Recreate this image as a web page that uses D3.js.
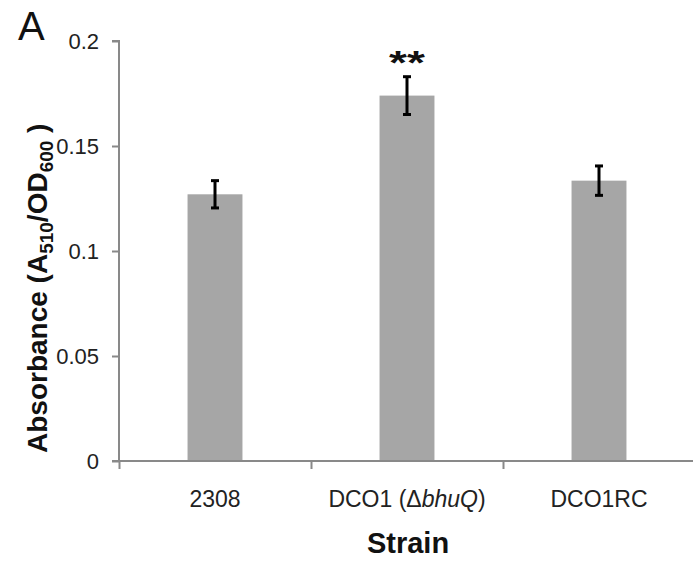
<!DOCTYPE html>
<html><head><meta charset="utf-8">
<script src="https://cdn.jsdelivr.net/npm/d3@7"></script>
<style>body{margin:0;background:#fff}svg{display:block;font-family:"Liberation Sans",Arial,sans-serif}</style>
</head><body>
<svg id="c" width="693" height="563"></svg>
<script>
const categories = ["2308", "DCO1 (\u0394bhuQ)", "DCO1RC"];
const values = [0.127, 0.174, 0.1335];
const errors = [0.0065, 0.009, 0.007];
const yTicks = [0, 0.05, 0.1, 0.15, 0.2];
const yTickLabels = ["0", "0.05", "0.1", "0.15", "0.2"];
const significance = ["", "**", ""];

const svg = d3.select("#c");
const axisColor = "#898989";
const y = d3.scaleLinear().domain([0, 0.2]).range([461, 41]);
const x = d3.scaleBand().domain(categories).range([119, 695]).paddingInner(0.714).paddingOuter(0.357);

// bars
svg.selectAll("rect.bar").data(values).join("rect")
  .attr("x", (d,i)=>x(categories[i])).attr("width", x.bandwidth())
  .attr("y", d=>y(d)).attr("height", d=>y(0)-y(d)).attr("fill", "#a6a6a6");

// error bars
const eb = svg.append("g").attr("stroke", "#000").attr("stroke-width", 3);
values.forEach((v,i)=>{
  const cx = x(categories[i]) + x.bandwidth()/2;
  eb.append("line").attr("x1",cx).attr("x2",cx).attr("y1",y(v+errors[i])).attr("y2",y(v-errors[i]));
  eb.append("line").attr("x1",cx-4).attr("x2",cx+4).attr("y1",y(v+errors[i])).attr("y2",y(v+errors[i]));
  eb.append("line").attr("x1",cx-4).attr("x2",cx+4).attr("y1",y(v-errors[i])).attr("y2",y(v-errors[i]));
});

// significance
svg.selectAll("text.sig").data(significance).join("text")
  .attr("transform",(d,i)=>`translate(${x(categories[i]) + x.bandwidth()/2},${y(values[i]+errors[i]) - 3}) scale(1,0.72)`)
  .attr("text-anchor","middle").attr("font-size",46).attr("font-weight","bold").attr("fill","#111").text(d=>d);

// y axis
const yAxis = d3.axisLeft(y).tickValues(yTicks).tickFormat((d,i)=>yTickLabels[i]).tickSize(7).tickPadding(13);
const gy = svg.append("g").attr("transform","translate(119,0)").call(yAxis);
gy.select(".domain").attr("stroke",axisColor).attr("stroke-width",2).attr("d","M-7,41H0V461H-7");
gy.selectAll(".tick line").attr("stroke",axisColor).attr("stroke-width",2);
gy.selectAll(".tick text").attr("font-size",22).attr("fill","#222").attr("font-family","Liberation Sans, Arial, sans-serif");

// x axis
const xb = d3.scaleLinear().domain([0,3]).range([119,695]);
const xAxis = d3.axisBottom(xb).tickValues([0,1,2,3]).tickFormat("").tickSize(8);
const gx = svg.append("g").attr("transform","translate(0,461)").call(xAxis);
gx.select(".domain").attr("stroke",axisColor).attr("stroke-width",2).attr("d","M119,0H695");
gx.selectAll(".tick line").attr("stroke",axisColor).attr("stroke-width",2);

// category labels
const lab = svg.append("g").attr("font-size",23).attr("fill","#222").attr("text-anchor","middle");
categories.forEach((c,i)=>{
  const t = lab.append("text").attr("transform", `translate(${x(c)+x.bandwidth()/2},507) scale(1,1.08)`);
  if (c.indexOf("bhuQ")>=0) {
    t.append("tspan").text("DCO1 (\u0394");
    t.append("tspan").attr("font-style","italic").text("bhuQ");
    t.append("tspan").text(")");
  } else t.text(c);
});

// axis titles
svg.append("text").attr("x", 408).attr("y", 553).attr("text-anchor","middle")
  .attr("font-size",29).attr("font-weight","bold").attr("fill","#111").text("Strain");

const yl = svg.append("text").attr("transform","translate(47,453) rotate(-90)")
  .attr("font-size",28).attr("font-weight","bold").attr("fill","#111");
yl.append("tspan").text("Absorbance (A");
yl.append("tspan").attr("font-size",19).attr("dy",6).text("510");
yl.append("tspan").attr("dy",-6).text("/OD");
yl.append("tspan").attr("font-size",19).attr("dy",6).text("600");
yl.append("tspan").attr("dy",-6).text(" )");

// panel label
svg.append("text").attr("x",18).attr("y",40).attr("font-size",40).attr("fill","#111").text("A");
</script>
</body></html>
